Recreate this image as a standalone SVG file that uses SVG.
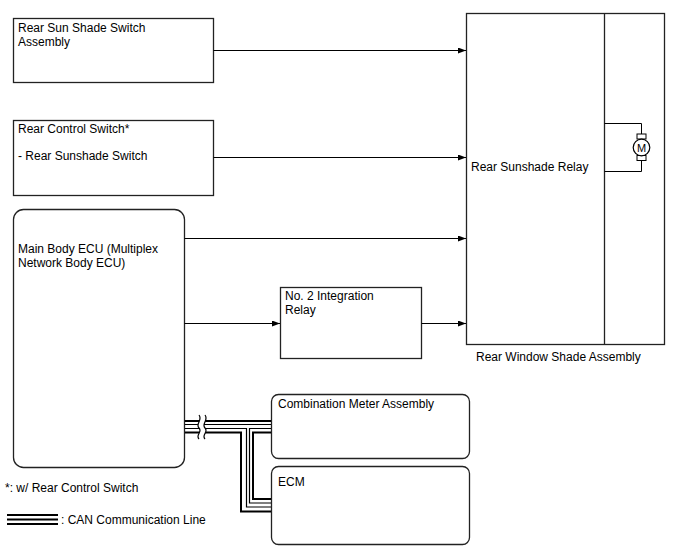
<svg xmlns="http://www.w3.org/2000/svg" width="688" height="560" viewBox="0 0 688 560">
<defs>
<marker id="arr" markerWidth="8" markerHeight="6" refX="8" refY="3" orient="auto" markerUnits="userSpaceOnUse">
<path d="M0,0 L8,3 L0,6 Z" fill="#000"/>
</marker>
<style>
.box{fill:#fff;stroke:#222;stroke-width:1.3}
.t{font-family:"Liberation Sans",Arial,sans-serif;font-size:12px;fill:#000}
.c{stroke:#000;stroke-width:1;fill:none}
.thk{stroke:#000;stroke-width:2;fill:none}
.thn{stroke:#000;stroke-width:1.2;fill:none}
</style>
</defs>
<rect width="688" height="560" fill="#fff"/>

<g id="rear-sun-shade-switch">
<rect class="box" x="13.5" y="18.5" width="200" height="64"/>
<text class="t" x="18" y="32">Rear Sun Shade Switch</text>
<text class="t" x="18" y="46">Assembly</text>
</g>

<g id="rear-control-switch">
<rect class="box" x="13.5" y="120.5" width="200" height="75"/>
<text class="t" x="18" y="133">Rear Control Switch*</text>
<text class="t" x="18" y="160">- Rear Sunshade Switch</text>
</g>

<g id="main-body-ecu">
<rect class="box" x="13.5" y="209.5" width="171" height="258" rx="10"/>
<text class="t" x="18" y="253">Main Body ECU (Multiplex</text>
<text class="t" x="18" y="267">Network Body ECU)</text>
</g>

<g id="integration-relay">
<rect class="box" x="280.5" y="287.5" width="141" height="71"/>
<text class="t" x="285" y="300">No. 2 Integration</text>
<text class="t" x="285" y="314">Relay</text>
</g>

<g id="rear-window-shade-assembly">
<rect class="box" x="466.5" y="13.5" width="198" height="331"/>
<line x1="604.5" y1="13.5" x2="604.5" y2="344.5" stroke="#222" stroke-width="1.3"/>
<text class="t" x="471" y="171">Rear Sunshade Relay</text>
<text class="t" x="476" y="361">Rear Window Shade Assembly</text>
<g id="motor">
<polyline class="c" points="604.5,123.5 641.5,123.5 641.5,135"/>
<polyline class="c" points="641.5,160 641.5,171.5 604.5,171.5"/>
<rect x="637" y="134" width="9" height="5" fill="#fff" stroke="#000" stroke-width="1"/>
<rect x="637" y="155.5" width="9" height="5" fill="#fff" stroke="#000" stroke-width="1"/>
<circle cx="641.5" cy="147.5" r="8.3" fill="#fff" stroke="#000" stroke-width="1.2"/>
<text x="641.5" y="151.5" text-anchor="middle" font-family="Liberation Sans,Arial,sans-serif" font-size="11" fill="#000">M</text>
</g>
</g>

<g id="combination-meter">
<rect class="box" x="271.5" y="394.5" width="198" height="64" rx="7"/>
<text class="t" x="278" y="408">Combination Meter Assembly</text>
</g>

<g id="ecm">
<rect class="box" x="271.5" y="466.5" width="198" height="78" rx="7"/>
<text class="t" x="278" y="486">ECM</text>
</g>

<g id="connectors">
<line class="c" x1="213.5" y1="50.5" x2="466" y2="50.5" marker-end="url(#arr)"/>
<line class="c" x1="213.5" y1="157.5" x2="466" y2="157.5" marker-end="url(#arr)"/>
<line class="c" x1="184.5" y1="238.5" x2="466" y2="238.5" marker-end="url(#arr)"/>
<line class="c" x1="184.5" y1="323.5" x2="280" y2="323.5" marker-end="url(#arr)"/>
<line class="c" x1="421.5" y1="323.5" x2="466" y2="323.5" marker-end="url(#arr)"/>

<g id="can-bus">
<line class="thk" x1="185" y1="421" x2="271" y2="421"/>
<line class="thn" x1="185" y1="424.5" x2="271" y2="424.5"/>
<polyline class="thn" points="185,428.5 246.5,428.5 246.5,507 271,507"/>
<polyline class="thn" points="271,428.5 249.5,428.5 249.5,503 271,503"/>
<polyline class="thk" points="185,432.5 241,432.5 241,511.5 271,511.5"/>
<polyline class="thk" points="271,432.5 253,432.5 253,499 271,499"/>
<path d="M199,415 C203,420 195,424 199,428 C203,432 195,435 199,439 L205,439 C201,435 209,432 205,428 C201,424 209,420 205,415 Z" fill="#fff" stroke="none"/>
<path d="M199,415 C203,420 195,424 199,428 C203,432 195,435 199,439" fill="none" stroke="#000" stroke-width="1.2"/>
<path d="M205,415 C209,420 201,424 205,428 C209,432 201,435 205,439" fill="none" stroke="#000" stroke-width="1.2"/>
</g>
</g>

<g id="legend">
<text class="t" x="5" y="492">*: w/ Rear Control Switch</text>
<line class="thk" x1="7" y1="515" x2="58" y2="515"/>
<line class="thk" x1="7" y1="519.5" x2="58" y2="519.5"/>
<line class="thk" x1="7" y1="524" x2="58" y2="524"/>
<text class="t" x="61" y="524">: CAN Communication Line</text>
</g>
</svg>
